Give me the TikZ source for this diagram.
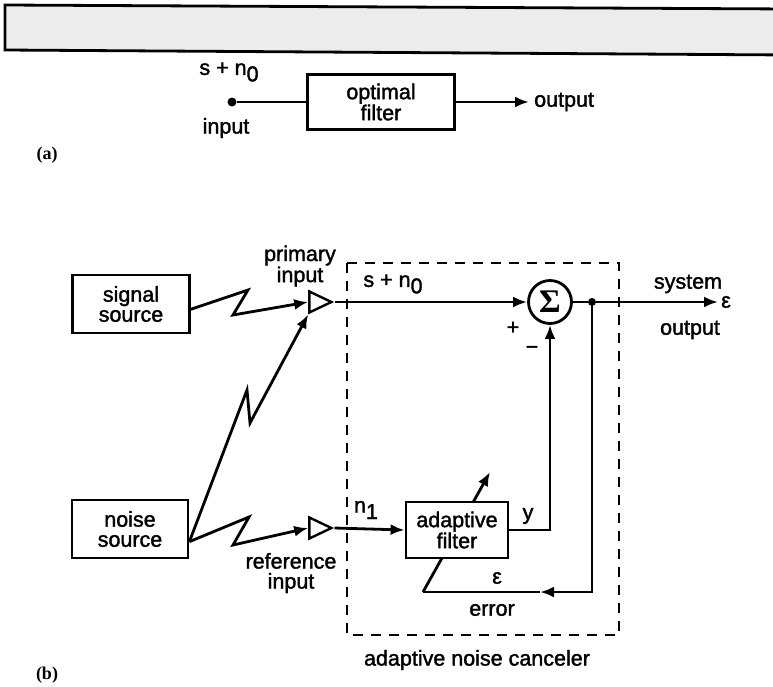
\documentclass[tikz,border=0pt]{standalone}
\usepackage{fontspec}
\setmainfont{Liberation Sans}[FakeBold=1.6]
\newfontfamily\panelfont{Liberation Serif}
\usepackage{tikz}
\usepackage{xcolor}
\usetikzlibrary{arrows.meta,positioning,shapes.geometric}
\definecolor{scangray}{HTML}{ECECEC}
\newcommand{\lowidx}[1]{\raisebox{-0.3em}{#1}}

\begin{document}
\begin{tikzpicture}[
      x=1pt,y=-1pt,
      >={Latex[length=14pt,width=11pt]},
      font=\fontsize{21.5}{20}\selectfont,
      wire/.style={line width=2.8pt},
      blockbox/.style={draw,line width=2.8pt,fill=white,align=center,inner sep=0pt},
      amp/.style={draw,line width=2.4pt,fill=white,isosceles triangle,
                  isosceles triangle stretches,minimum width=21pt,
                  minimum height=22pt,inner sep=0pt},
      summer/.style={draw,circle,line width=2.8pt,fill=white,minimum size=43pt,
                  inner sep=0pt,font=\panelfont\bfseries\fontsize{33}{33}\selectfont},
      jdot/.style={circle,fill,inner sep=0pt,minimum size=8pt},
      lbl/.style={inner sep=0pt,align=center},
      panel/.style={inner sep=0pt,font=\panelfont\bfseries\fontsize{18}{18}\selectfont}
    ]
    \useasboundingbox (0,0) rectangle (773,686);
    % scanned strip at the top
    \draw[line width=2.8pt,fill=scangray] (5,5) -- (790,9) -- (790,55) -- (5,50) -- cycle;

    % (a) optimal filter
    \node[jdot,minimum size=9pt] (inpt) at (232,102) {};
    \node[blockbox,minimum width=147pt,minimum height=55pt] (optf) at (381,102)
      {optimal\\filter};
    \coordinate (aout) at (529,102);
    \draw[wire] (inpt) -- (optf);
    \draw[wire,->] (optf) -- (aout);
    \node[lbl,right=5pt of aout] (aoutl) {output};
    \node[lbl] (asig) at (229,72) {s + n\lowidx{0}};
    \node[lbl] (ainl) at (226,128) {input};
    \node[panel] (pa) at (47,155) {(a)};

    % (b) adaptive noise canceler
    \draw[wire,dash pattern=on 10pt off 8pt] (347,263) rectangle (619,635);
    \node[blockbox,minimum width=117pt,minimum height=58pt] (sig) at (131,304)
      {signal\\source};
    \node[blockbox,minimum width=116pt,minimum height=58pt] (noise) at (130,529)
      {noise\\source};
    \node[amp] (pamp) at (316,302) {};
    \node[amp] (ramp) at (316,528) {};
    \node[summer] (sum) at (550,302) {Σ};
    \node[jdot] (jn) at (592,302) {};
    \coordinate (sysout) at (718,302);
    \coordinate (err) at (423,592);
    \coordinate (tune) at (490,472);
    \draw[wire,->] (err) -- (tune);
    \node[blockbox,minimum width=102pt,minimum height=56pt] (filt) at (457,530)
      {adaptive\\filter};

    \draw[wire,->] (sig.-5) -- (248,290) -- (233,315) -- (pamp.west);
    \draw[wire,->] (noise.-12) -- (247,390) -- (250,423) -- (pamp.right corner);
    \draw[wire,->] (noise.-12) -- (249,517) -- (233,545) -- (ramp.west);
    \draw[wire,->] (pamp.apex) -- (sum.west);
    \draw[wire,->] (ramp.apex) -- (filt.west);
    \draw[wire,->] (filt.east) -| (sum.south);
    \draw[wire] (sum.east) -- (jn);
    \draw[wire,->] (jn) -- (sysout);
    \draw[wire,->] (jn) |- (540,592);
    \draw[wire] (540,592) -- (err);

    \node[lbl] (bsig) at (393,284) {s + n\lowidx{0}};
    \node[lbl] (bref) at (366,510) {n\lowidx{1}};
    \node[lbl] (plbl) at (300,266) {primary\\input};
    \node[lbl] (rlbl) at (291,573) {reference\\input};
    \node[lbl] (plus) at (513,328) {+};
    \node[lbl] (minus) at (532,350) {−};
    \node[lbl] (ylbl) at (528,516) {y};
    \node[lbl] (elbl) at (497,578) {ε};
    \node[lbl] (errl) at (492,610) {error};
    \node[lbl] (syst) at (688,284) {system};
    \node[lbl,right=3pt of sysout] (epsout) {ε};
    \node[lbl] (outl) at (690,330) {output};
    \node[lbl] (ancl) at (477,660) {adaptive noise canceler};
    \node[panel] (pb) at (47,675) {(b)};
  \end{tikzpicture}
\end{document}
